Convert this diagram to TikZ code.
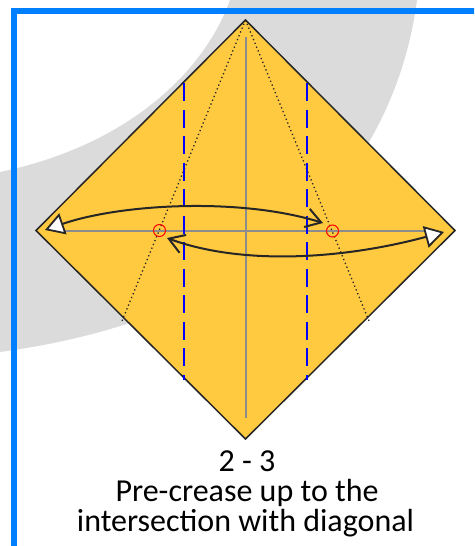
\documentclass[tikz,border=0pt]{standalone}
\usepackage{fontspec}
\setmainfont{Carlito}
\usepackage[dvipsnames,svgnames]{xcolor}
\usetikzlibrary{arrows.meta}
\definecolor{paperfill}{RGB}{255,202,64}
\definecolor{framecol}{RGB}{0,128,255}
\definecolor{swooshcol}{RGB}{219,219,219}
\definecolor{creasecol}{RGB}{140,140,140}
\tikzset{
    foldarrow/.style={
        line width=2pt,
        black!85,
        {Triangle[open,fill=white,length=19pt,width=22pt,line width=1.8pt]}-{Straight Barb[length=15pt,width=19pt,line width=2pt]}
    },
    backarrow/.style={
        line width=2pt,
        black!85,
        {Straight Barb[length=15pt,width=19pt,line width=2pt]}-{Triangle[open,fill=white,length=19pt,width=22pt,line width=1.8pt]}
    },
    valleyline/.style={
        line width=2.2pt,
        blue,
        dash pattern=on 18pt off 8.5pt
    },
    creaseline/.style={line width=2pt,creasecol},
    diagline/.style={line width=1.3pt,black!85,dash pattern=on 1.3pt off 2.8pt},
    markcircle/.style={line width=1pt,red},
    captiontext/.style={black,font=\fontsize{32}{36}\selectfont,align=center,anchor=base}
}

\begin{document}
\begin{tikzpicture}[x=1pt,y=-1pt]
	\useasboundingbox (0,0) rectangle (474,546);
	\clip (0,0) rectangle (474,546);
	
	% background
	\fill[white] (0,0) rectangle (474,546);
	\fill[swooshcol] (230,0) .. controls (205,70) and (130,145) .. (0,172)
	-- (0,352) .. controls (310,310) and (400,130) .. (417,0) -- cycle;
	
	% frame
	\draw[line width=6pt,framecol] (480,11) -- (14,11) -- (14,552);
	
	\path
	(245.5,20) coordinate (top)
	(36,230.5) coordinate (left)
	(455,230.5) coordinate (right)
	(245.5,439) coordinate (bottom)
	
	(55,230.5) coordinate (h1)
	(435,230.5) coordinate (h2)
	(245.5,37) coordinate (v1)
	(245.5,418) coordinate (v2)
	
	(184,83) coordinate (b1)
	(184,380) coordinate (b2)
	(307,83) coordinate (b3)
	(307,380) coordinate (b4)
	
	(122,321) coordinate (d1)
	(369,321) coordinate (d2)
	
	(159.5,230.5) coordinate (m1)
	(332.5,231) coordinate (m2)
	
	(45,230) coordinate (a1)
	(323,223) coordinate (a2)
	(167,238) coordinate (a3)
	(444,232) coordinate (a4);
	
	% paper
	\draw[line width=1.5pt,black!85,fill=paperfill,line join=miter] (top) -- (right) -- (bottom) -- (left) -- cycle;
	
	% creases
	\draw[creaseline] (h1) -- (h2);
	\draw[creaseline] (v1) -- (v2);
	
	% diagonals
	\draw[diagline] (top) -- (d1);
	\draw[diagline] (top) -- (d2);
	
	% blue folds
	\draw[valleyline] (b1) -- (b2);
	\draw[valleyline] (b3) -- (b4);
	
	% red marks
	\draw[markcircle] (m1) circle (6);
	\draw[markcircle] (m2) circle (6);
	
	% arrows
	\draw[foldarrow] (a1) .. controls (120,204) and (240,197) .. (a2);
	\draw[backarrow] (a3) .. controls (240,265) and (340,260) .. (a4);
	
	% text
	\draw (247,471) node[captiontext] (t1) {2 - 3};
	\draw (247,501) node[captiontext] (t2) {Pre-crease up to the};
	\draw (245.5,531) node[captiontext] (t3) {intersection with diagonal};
\end{tikzpicture}
\end{document}
